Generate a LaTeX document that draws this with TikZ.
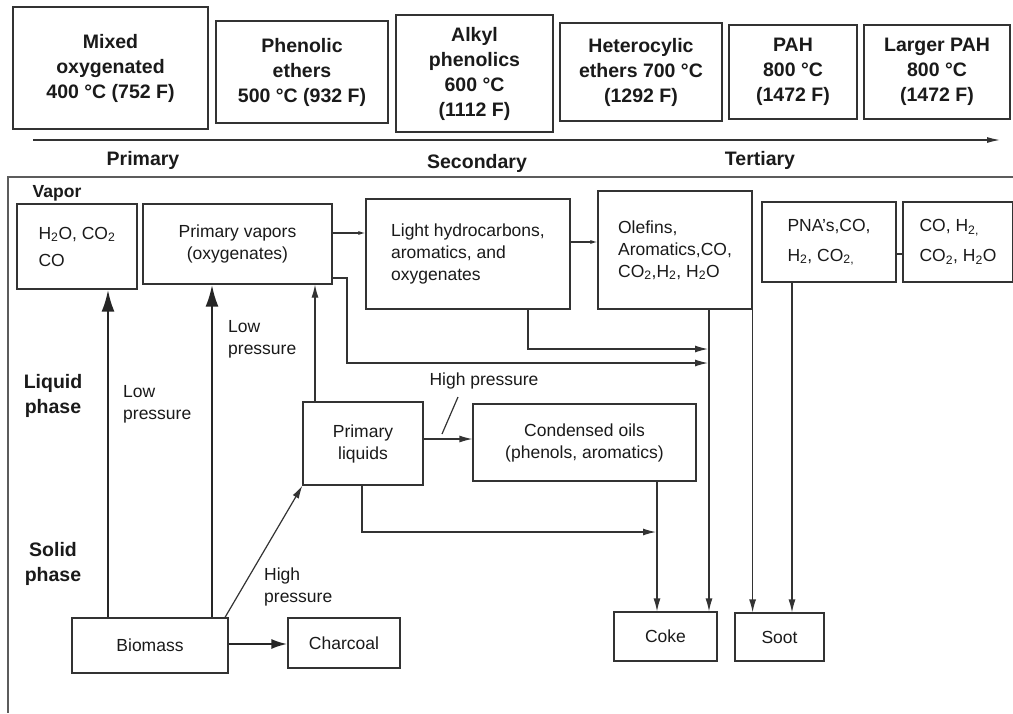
\documentclass[tikz,border=0pt]{standalone}
\usepackage{fontspec}
\setmainfont{Liberation Sans}
\usetikzlibrary{arrows.meta,calc}
\definecolor{lc}{HTML}{333333}
\definecolor{tc}{HTML}{1A1A1A}
\begin{document}
\begin{tikzpicture}[x=1pt,y=-1pt,
  box/.style={draw=lc, line width=1.2pt, inner sep=0pt, text=tc, align=center, font=\fontsize{17.5}{22}\selectfont},
  topbox/.style={box, font=\bfseries\fontsize{19.5}{25}\selectfont},
  arr/.style={draw=lc, line width=1.2pt, -{Latex[length=13pt,width=7pt]}},
  smallarr/.style={draw=lc, line width=1.1pt, -{Latex[length=7pt,width=4pt]}},
  thickarr/.style={draw=black!85, line width=2.7pt, -{Latex[length=22pt,width=13pt]}},
  midarr/.style={draw=black!85, line width=2.3pt, -{Latex[length=16pt,width=10pt]}},
  lbl/.style={text=tc, font=\fontsize{17.5}{22}\selectfont, align=left, inner sep=0pt},
  blbl/.style={text=tc, font=\bfseries\fontsize{19.5}{25}\selectfont, align=center, inner sep=0pt}]
\useasboundingbox (0,0) rectangle (1013,713);
\fill[white] (0,0) rectangle (1013,713);

% top temperature boxes
\node[topbox, minimum width=195pt, minimum height=122pt] (t1) at (110.5,68) {Mixed\\oxygenated\\400 °C (752 F)};
\node[topbox, minimum width=172pt, minimum height=102pt] (t2) at (302,72) {Phenolic\\ethers\\500 °C (932 F)};
\node[topbox, minimum width=157pt, minimum height=117pt] (t3) at (474.5,73.5) {Alkyl\\phenolics\\600 °C\\(1112 F)};
\node[topbox, minimum width=162pt, minimum height=98pt] (t4) at (641,72) {Heterocylic\\ethers 700 °C\\(1292 F)};
\node[topbox, minimum width=128pt, minimum height=94pt] (t5) at (793,72) {PAH\\800 °C\\(1472 F)};
\node[topbox, minimum width=146pt, minimum height=94pt] (t6) at (937,72) {Larger PAH\\800 °C\\(1472 F)};

\draw[draw=lc, line width=1.2pt, -{Latex[length=13pt,width=6pt]}] (33,140) -- (1000,140);
\node[blbl] (lprim) at (143,160) {Primary};
\node[blbl] (lsec) at (477,163) {Secondary};
\node[blbl] (lter) at (760,160) {Tertiary};

% frame
\draw[draw=lc!80, line width=1.3pt] (1013,177) -- (8,177) -- (8,713);

\node[blbl, font=\bfseries\fontsize{17.5}{22}\selectfont] (vap) at (57,193) {Vapor};
\node[blbl] (liq) at (53,396) {Liquid\\phase};
\node[blbl] (sol) at (53,564) {Solid\\phase};

% lower boxes
\node[box, align=left, minimum width=120pt, minimum height=85pt] (h2o) at (77,246.5) {H\textsubscript{2}O, CO\textsubscript{2}\\[5pt]CO};
\node[box, minimum width=189pt, minimum height=80pt] (pv) at (237.5,244) {Primary vapors\\(oxygenates)};
\node[box, align=left, minimum width=204pt, minimum height=110pt] (lh) at (468,254) {Light hydrocarbons,\\aromatics, and\\oxygenates};
\node[box, align=left, minimum width=154pt, minimum height=118pt] (ol) at (675,250) {Olefins,\\Aromatics,CO,\\CO\textsubscript{2},H\textsubscript{2}, H\textsubscript{2}O};
\node[box, align=left, minimum width=134pt, minimum height=80pt] (pna) at (829,242) {PNA’s,CO,\\[8pt]H\textsubscript{2}, CO\textsubscript{2,}};
\node[box, align=left, minimum width=110pt, minimum height=80pt] (co) at (958,242) {CO, H\textsubscript{2,}\\[8pt]CO\textsubscript{2}, H\textsubscript{2}O};
\node[box, minimum width=120pt, minimum height=83pt] (pl) at (363,443.5) {Primary\\liquids};
\node[box, minimum width=223pt, minimum height=77pt] (oils) at (584.5,442.5) {Condensed oils\\(phenols, aromatics)};
\node[box, minimum width=103pt, minimum height=49pt] (coke) at (665.5,636.5) {Coke};
\node[box, minimum width=89pt, minimum height=48pt] (soot) at (779.5,637) {Soot};
\node[box, minimum width=156pt, minimum height=55pt] (bio) at (150,645.5) {Biomass};
\node[box, minimum width=112pt, minimum height=50pt] (char) at (344,643) {Charcoal};

% labels
\node[lbl, anchor=west] (lp1) at (123,404) {Low\\pressure};
\node[lbl, anchor=west] (lp2) at (228,339) {Low\\pressure};
\node[lbl, anchor=west] (hp1) at (264,587) {High\\pressure};
\node[lbl] (hp2) at (484,381) {High pressure};
\draw[draw=lc, line width=1.2pt] (458,397) -- (442,434);

% thick arrows from biomass
\draw[thickarr] (bio.north -| 108,0) -- (h2o.south -| 108,0);
\draw[thickarr] (bio.north -| 212,0) -- (pv.south -| 212,0);
\draw[midarr] (bio.east |- 0,644) -- (char.west |- 0,644);
\draw[arr] (bio.north -| 225,0) -- (pl.south west);

% connectors
\coordinate (j1) at (708,349);
\coordinate (j2) at (708,363);
\coordinate (j3) at (656,532);
\draw[smallarr] (pv.east |- 0,233) -- (lh.west |- 0,233);
\draw[smallarr] (lh.east |- 0,242) -- (ol.west |- 0,242);
\draw[arr] (pv.east |- 0,278) -| (347,363) -- (j2);
\draw[arr] (lh.south -| 528,0) |- (j1);
\draw[arr] (pl.north -| 315,0) -- (pv.south -| 315,0);
\draw[arr] (pl.east |- 0,439) -- (oils.west |- 0,439);
\draw[arr] (pl.south -| 362,0) |- (j3);
\draw[arr] (oils.south -| 657,0) -- (coke.north -| 657,0);
\draw[arr] (ol.south -| 709,0) -- (coke.north -| 709,0);
\draw[arr] (ol.south east) -- (ol.south east |- soot.north);
\draw[arr] (pna.south -| 792,0) -- (soot.north -| 792,0);
\draw[draw=lc, line width=1.2pt] (pna.east |- 0,254) -- (co.west |- 0,254);
\end{tikzpicture}
\end{document}
